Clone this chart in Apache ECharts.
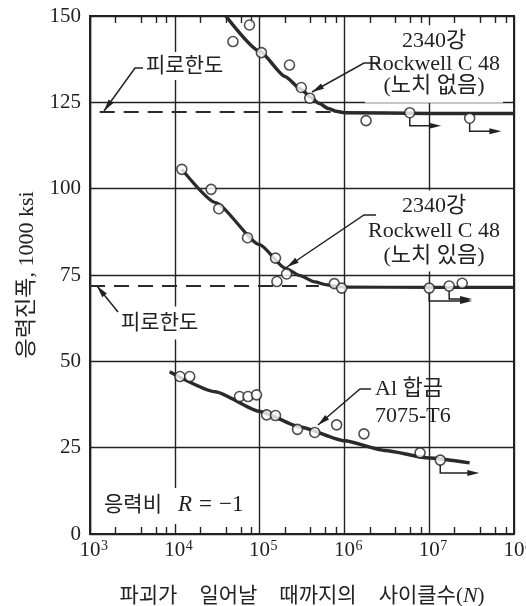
<!DOCTYPE html>
<html>
<head>
<meta charset="utf-8">
<script src="https://cdn.jsdelivr.net/npm/echarts@6/dist/echarts.min.js"></script>
<style>
  html, body { margin: 0; padding: 0; background: #fff; }
  #chart { width: 526px; height: 606px; }
</style>
</head>
<body>
<div id="chart"></div>
<script>
// 축 눈금
var xTicks = [1e3, 1e4, 1e5, 1e6, 1e7, 1e8];
var xMinorTicks = [2e3, 4e3, 6e3, 8e3, 2e4, 4e4, 6e4, 8e4, 2e5, 4e5, 6e5, 8e5,
                   2e6, 4e6, 6e6, 8e6, 2e7, 4e7, 6e7, 8e7];
var yTicks = [0, 25, 50, 75, 100, 125, 150];

// 2340강 Rockwell C 48 (노치 없음)  [N, 응력]
var plainPts = [[4.85e4, 142.6], [7.6e4, 147.4], [1.05e5, 139.4], [2.25e5, 135.8],
                [3.1e5, 129.3], [3.9e5, 126.2], [1.8e6, 119.7], [5.9e6, 122.0], [3.0e7, 120.4]];
var plainCurve = [[4e4, 150], [1e5, 139.8], [2e5, 132.5], [3e5, 129], [4e5, 126.5], [5e5, 124.7],
                  [6.5e5, 123.2], [8e5, 122.4], [1e6, 122], [1e7, 121.8], [1e8, 121.8]];
var plainLimit = [[1.3e3, 122.2], [7e5, 122.2]];
var plainRunout = [[5.9e6, 122.0, 1.38e7], [3.0e7, 120.4, 7.1e7]]; // [N, 응력, 화살표 끝 N]

// 2340강 Rockwell C 48 (노치 있음)
var notchPts = [[1.21e4, 105.6], [2.68e4, 99.8], [3.3e4, 94.2], [7.2e4, 85.8], [1.54e5, 79.9],
                [1.6e5, 73.1], [2.08e5, 75.3], [7.6e5, 72.5], [9.3e5, 71.2],
                [1.0e7, 71.2], [1.72e7, 71.8], [2.45e7, 72.6]];
var notchCurve = [[1.21e4, 105.6], [3e4, 96], [1e5, 83.8], [2e5, 77], [3e5, 74.8], [4.5e5, 73],
                  [6e5, 72.2], [8e5, 71.7], [1e6, 71.5], [1e7, 71.4], [1e8, 71.4]];
var notchLimit = [[1e3, 71.8], [5e5, 71.8]];
var notchRunout = [[1.0e7, 71.2, 3.2e7], [1.72e7, 71.8, 3.2e7]];

// Al 합금 7075-T6
var alPts = [[1.15e4, 45.6], [1.5e4, 45.6], [5.8e4, 39.8], [7.3e4, 39.8], [9.2e4, 40.3],
             [1.21e5, 34.5], [1.54e5, 34.3], [2.8e5, 30.3], [4.47e5, 29.4], [8.1e5, 31.6],
             [1.7e6, 29.0], [7.8e6, 23.5], [1.35e7, 21.4]];
var alCurve = [[8.7e3, 47], [3e4, 41.2], [1e5, 35.5], [3e5, 31], [1e6, 27], [3e6, 24.2],
               [1e7, 22], [3e7, 20.6]];
var alRunout = [[1.35e7, 21.4, 3.9e7]];

var ink = '#222';
var serif = '"Liberation Serif", "Noto Sans CJK KR", serif';

var chart = echarts.init(document.getElementById('chart'));

function curve(data, w) {
    return {
        type: 'line', data: data, showSymbol: false, smooth: 0.2, smoothMonotone: 'x',
        lineStyle: { color: '#2a2a2a', width: w }, z: 3, silent: true
    };
}
function dashed(data) {
    return {
        type: 'line', data: data, showSymbol: false,
        lineStyle: { color: '#2a2a2a', width: 2, type: [15, 9] }, z: 3, silent: true
    };
}
function points(data) {
    return {
        type: 'scatter', data: data, symbol: 'circle', symbolSize: 10,
        itemStyle: { color: '#fff', borderColor: ink, borderWidth: 1.6 }, z: 5, silent: true
    };
}
// 미파단(runout) 표시: 아래로 꺾인 후 오른쪽 화살표
function runout(data) {
    return {
        type: 'custom', data: data, z: 4, silent: true,
        encode: { x: 0, y: 1 },
        renderItem: function (params, api) {
            var p = api.coord([api.value(0), api.value(1)]);
            var tx = api.coord([api.value(2), api.value(1)])[0];
            var yb = p[1] + 13;
            return {
                type: 'group',
                children: [
                    { type: 'polyline', shape: { points: [[p[0], p[1] + 5], [p[0], yb], [tx - 8, yb]] },
                      style: { stroke: ink, lineWidth: 1.5, fill: null } },
                    { type: 'polygon', shape: { points: [[tx - 12, yb - 3], [tx, yb], [tx - 12, yb + 3]] },
                      style: { fill: ink } }
                ]
            };
        }
    };
}

// 지시선
function leader(pts) {
    var a = pts[pts.length - 2], b = pts[pts.length - 1];
    var dx = b[0] - a[0], dy = b[1] - a[1], l = Math.sqrt(dx * dx + dy * dy);
    var ux = dx / l, uy = dy / l, L = 12, W = 3;
    var bx = b[0] - ux * L, by = b[1] - uy * L;
    return [
        { type: 'polyline', z: 100, shape: { points: pts }, style: { stroke: ink, lineWidth: 1.5, fill: null } },
        { type: 'polygon', z: 100, shape: { points: [[b[0], b[1]], [bx - uy * W, by + ux * W], [bx + uy * W, by - ux * W]] },
          style: { fill: ink } }
    ];
}
function note(x, y, text, opt) {
    opt = opt || {};
    return {
        type: 'text', z: 90, x: x, y: y,
        style: {
            text: text, fill: ink, font: (opt.size || 22) + 'px ' + serif,
            textAlign: opt.align || 'left', textVerticalAlign: 'middle',
            lineHeight: opt.lh || 22,
            backgroundColor: opt.bg === false ? null : '#fff',
            padding: opt.pad || [3, 3, 3, 3],
            rich: opt.rich
        }
    };
}

var graphics = []
    .concat([note(143, 66, '피로한도', { size: 21 })])
    .concat(leader([[143, 68], [135, 68], [104, 111]]))
    .concat([note(434, 64, '2340강\nRockwell C 48\n(노치 없음)', { align: 'center', lh: 22.5, pad: [10, 3, 0, 3] })])
    .concat(leader([[380, 63], [364, 63], [312, 92]]))
    .concat([note(434, 231, '2340강\nRockwell C 48\n(노치 있음)', { align: 'center', lh: 25, pad: [6, 3, 0, 3] })])
    .concat(leader([[376, 215], [364, 215], [287, 267]]))
    .concat([note(118, 323, '피로한도', { size: 21, pad: [8, 3, 3, 3] })])
    .concat(leader([[118, 312], [97, 286]]))
    .concat([note(372, 403, 'Al 합금\n7075-T6', { lh: 27, bg: false })])
    .concat(leader([[371, 389], [360, 389], [318, 425]]))
    .concat([note(102, 506, '{k|응력비}{g| }{i|R}{h| }{n|=}{h| }{n|−1}', {
        pad: [6, 4, 8, 2],
        rich: {
            k: { font: '21px ' + serif, fill: ink },
            g: { width: 16 },
            h: { width: 7 },
            i: { font: 'italic 23px ' + serif, fill: ink },
            n: { font: '23px ' + serif, fill: ink }
        }
    })]);

chart.setOption({
    backgroundColor: '#fff',
    animation: false,
    grid: {
        left: 90, right: 12, top: 16, bottom: 72, outerBoundsMode: 'none',
        show: true, borderColor: ink, borderWidth: 2, backgroundColor: 'transparent'
    },
    xAxis: [
        {
            type: 'log', logBase: 10, min: 1e3, max: 1e8, position: 'bottom',
            axisLine: { show: true, lineStyle: { color: ink, width: 2 } },
            axisTick: { show: false },
            splitLine: { show: true, lineStyle: { color: ink, width: 1.4 } },
            axisLabel: {
                customValues: xTicks, margin: 5,
                formatter: function (v) {
                    var e = Math.round(Math.log(v) / Math.LN10);
                    return '{p|}{b|10}{s|' + e + '}';
                },
                rich: {
                    p: { width: 8 },
                    b: { fontSize: 21, fontFamily: serif, color: ink, lineHeight: 22 },
                    s: { fontSize: 14, fontFamily: serif, color: ink, width: 8, verticalAlign: 'top', lineHeight: 14 }
                }
            },
            name: '{k|파괴가}{g| }{k|일어날}{g| }{k|때까지의}{g| }{k|사이클수}{k|(}{i|N}{k|)}',
            nameLocation: 'middle', nameGap: 51,
            nameTextStyle: {
                rich: {
                    k: { fontSize: 21, fontFamily: serif, color: ink },
                    g: { width: 22 },
                    i: { fontSize: 22, fontFamily: serif, fontStyle: 'italic', color: ink }
                }
            }
        },
        {
            type: 'log', logBase: 10, min: 1e3, max: 1e8, position: 'bottom',
            axisLine: { show: false },
            axisTick: { show: true, inside: true, length: 7, customValues: xMinorTicks, lineStyle: { color: ink, width: 1.4 } },
            axisLabel: { show: false },
            splitLine: { show: false }
        },
        {
            type: 'log', logBase: 10, min: 1e3, max: 1e8, position: 'top',
            axisLine: { show: false },
            axisTick: { show: true, inside: true, length: 7, customValues: xMinorTicks, lineStyle: { color: ink, width: 1.4 } },
            axisLabel: { show: false },
            splitLine: { show: false }
        }
    ],
    yAxis: [{
        type: 'value', min: 0, max: 150, interval: 25,
        axisLine: { show: true, lineStyle: { color: ink, width: 2 } },
        axisTick: { show: false },
        splitLine: { show: true, lineStyle: { color: ink, width: 1.4 } },
        axisLabel: { customValues: yTicks, margin: 9, fontSize: 21, fontFamily: serif, color: ink },
        name: '응력진폭, 1000 ksi',
        nameLocation: 'middle', nameGap: 50,
        nameTextStyle: { fontSize: 22, fontFamily: serif, color: ink }
    }],
    series: [
        dashed(plainLimit), curve(plainCurve, 3.5), runout(plainRunout), points(plainPts),
        dashed(notchLimit), curve(notchCurve, 3.2), runout(notchRunout), points(notchPts),
        curve(alCurve, 3.5), runout(alRunout), points(alPts)
    ],
    graphic: graphics
});
</script>
</body>
</html>
